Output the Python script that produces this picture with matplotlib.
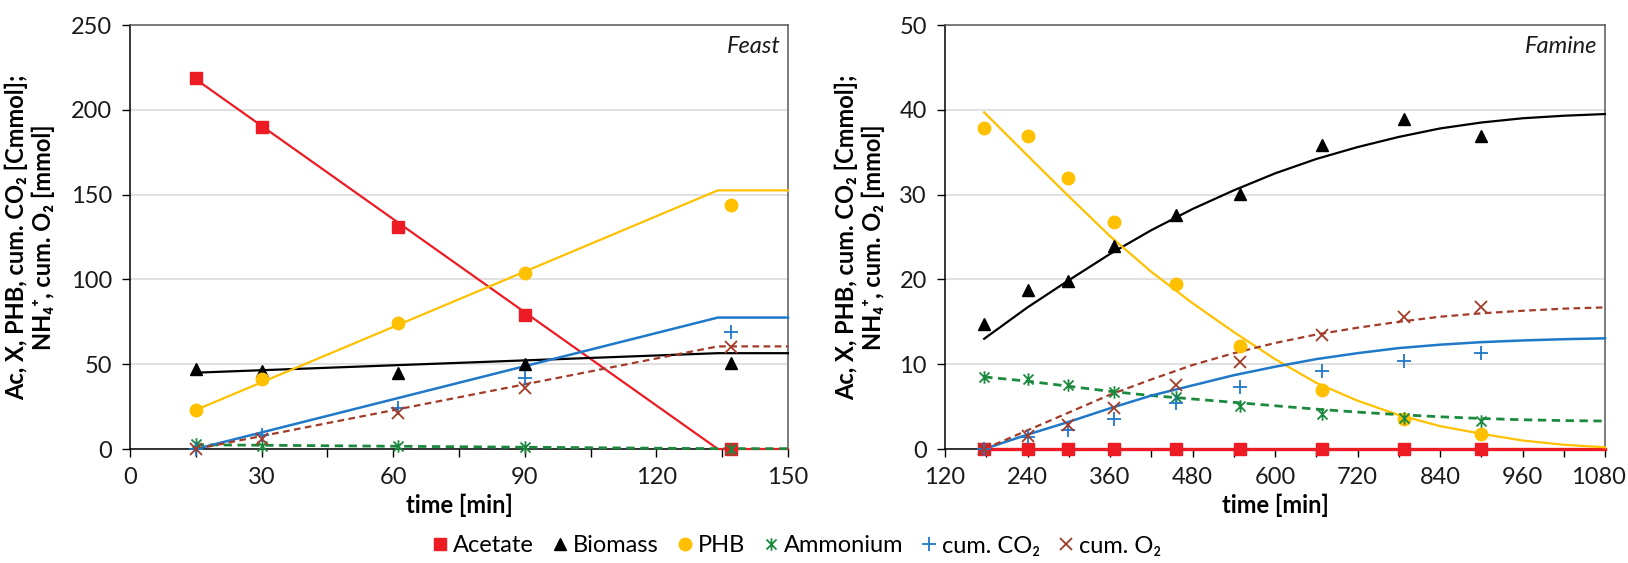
import numpy as np
import matplotlib
matplotlib.use("Agg")
import matplotlib.pyplot as plt
from matplotlib.path import Path
from matplotlib.lines import Line2D
from matplotlib.transforms import ScaledTranslation

plt.rcParams['font.family'] = ['Lato', 'DejaVu Sans']

# ---------------- data: Feast ----------------
feast_t = [15, 30, 61, 90, 137]
feast_acetate = [219, 190, 131, 79, 0]
feast_biomass = [47, 46, 45, 50, 51]
feast_phb = [23, 41, 74, 104, 144]
feast_ammonium = [3, 2, 2, 1, 0]
feast_co2 = [0, 8, 24, 42, 69]
feast_o2 = [0, 6, 21, 36, 60]

feast_model_t = [15, 134, 150]
feast_model_acetate = [218, 0, 0]
feast_model_biomass = [45, 56.5, 56.5]
feast_model_phb = [23, 152.5, 152.5]
feast_model_ammonium = [2.5, 0.2, 0.2]
feast_model_co2 = [0, 77.5, 77.5]
feast_model_o2 = [0, 60.5, 60.5]

# ---------------- data: Famine ----------------
famine_t = [177, 240, 299, 366, 456, 549, 669, 787, 900]
famine_acetate = [0, 0, 0, 0, 0, 0, 0, 0, 0]
famine_biomass = [14.7, 18.7, 19.8, 23.9, 27.6, 30.1, 35.8, 38.9, 36.9]
famine_phb = [37.9, 36.9, 31.9, 26.8, 19.5, 12.1, 6.9, 3.5, 1.8]
famine_ammonium = [8.45, 8.25, 7.6, 6.7, 6.1, 5.1, 4.1, 3.6, 3.3]
famine_co2 = [0, 1.4, 2.2, 3.5, 5.4, 7.3, 9.2, 10.4, 11.3]
famine_o2 = [0, 1.5, 2.8, 4.8, 7.5, 10.3, 13.5, 15.6, 16.7]

famine_model_t = [177, 240, 300, 360, 420, 480, 540, 600, 660, 720, 780, 840, 900, 960, 1020, 1080]
famine_model_acetate = [0] * 16
famine_model_biomass = [13.0, 16.7, 19.9, 23.0, 25.8, 28.3, 30.5, 32.5, 34.2, 35.6, 36.8, 37.8, 38.5, 39.0, 39.3, 39.5]
famine_model_phb = [39.7, 34.6, 29.8, 25.1, 20.9, 17.2, 13.8, 10.6, 7.8, 5.7, 4.0, 2.7, 1.8, 1.0, 0.5, 0.2]
famine_model_ammonium = [8.5, 8.0, 7.4, 6.8, 6.3, 5.9, 5.5, 5.1, 4.7, 4.35, 4.05, 3.8, 3.6, 3.45, 3.35, 3.3]
famine_model_co2 = [0.0, 1.7, 3.2, 4.8, 6.3, 7.5, 8.7, 9.7, 10.6, 11.3, 11.9, 12.3, 12.6, 12.8, 12.95, 13.05]
famine_model_o2 = [0.0, 2.2, 4.3, 6.4, 8.2, 9.9, 11.3, 12.5, 13.5, 14.3, 15.0, 15.6, 16.0, 16.3, 16.55, 16.7]

# ---------------- axes / labels ----------------
feast_xticks = [0, 15, 30, 45, 60, 75, 90, 105, 120, 135, 150]
feast_xticklabels = ['0', '', '30', '', '60', '', '90', '', '120', '', '150']
feast_yticks = [0, 50, 100, 150, 200, 250]
famine_xticks = [120, 180, 240, 300, 360, 420, 480, 540, 600, 660, 720, 780, 840, 900, 960, 1020, 1080]
famine_xticklabels = ['120', '', '240', '', '360', '', '480', '', '600', '', '720', '', '840', '', '960', '', '1080']
famine_yticks = [0, 10, 20, 30, 40, 50]

series_names = ['Acetate', 'Biomass', 'PHB', 'Ammonium', 'cum. CO₂', 'cum. O₂']
ylabel_text = 'Ac, X, PHB, cum. CO₂ [Cmmol];\nNH₄⁺, cum. O₂ [mmol]'
xlabel_text = 'time [min]'

# ---------------- style ----------------
C_AC = '#ED1C24'
C_X = '#000000'
C_PHB = '#FFC000'
C_NH = '#1B8A3E'
C_CO2 = '#1F78C8'
C_O2 = '#A33B29'
FS = 17

star = Path([(-1, -1), (1, 1), (-1, 1), (1, -1), (0, -1.25), (0, 1.25)],
            [Path.MOVETO, Path.LINETO, Path.MOVETO, Path.LINETO, Path.MOVETO, Path.LINETO])

marker_styles = [
    dict(marker='s', color=C_AC, ms=8.5, mec=C_AC),
    dict(marker='^', color=C_X, ms=8.5, mec=C_X),
    dict(marker='o', color=C_PHB, ms=9, mec=C_PHB),
    dict(marker=star, color=C_NH, ms=9, mew=1.3, mfc='none'),
    dict(marker='+', color=C_CO2, ms=10, mew=1.3),
    dict(marker='x', color=C_O2, ms=9, mew=1.3),
]
line_styles = [
    dict(color=C_AC, lw=1.6, ls='-'),
    dict(color=C_X, lw=1.6, ls='-'),
    dict(color=C_PHB, lw=1.6, ls='-'),
    dict(color=C_NH, lw=2.0, ls=(0, (3, 2))),
    dict(color=C_CO2, lw=1.8, ls='-'),
    dict(color=C_O2, lw=1.6, ls=(0, (3, 2))),
]

fig = plt.figure(figsize=(16.28, 5.63), dpi=100)
ax1 = fig.add_axes([130 / 1628, 1 - 449 / 563, 658 / 1628, 424 / 563])
ax2 = fig.add_axes([945 / 1628, 1 - 449 / 563, 660 / 1628, 424 / 563])


def draw(ax, t, data, mt, mdata, xlim, ylim, xticks, xtl, yticks, title, acetate_lw):
    for i, (y, st) in enumerate(zip(mdata, line_styles)):
        st = dict(st)
        if i == 0:
            st['lw'] = acetate_lw
        ax.plot(mt, y, zorder=3, clip_on=False, **st)
    for y, st in zip(data, marker_styles):
        ax.plot(t, y, ls='none', zorder=4, clip_on=False, **st)
    ax.set_xlim(*xlim)
    ax.set_ylim(*ylim)
    ax.set_xticks(xticks)
    ax.set_xticklabels(xtl)
    ax.set_yticks(yticks)
    ax.yaxis.grid(True, color='#D9D9D9', lw=1.1, zorder=0)
    ax.set_axisbelow(True)
    ax.tick_params(axis='both', direction='out', length=6, width=1, color='#000000',
                   labelsize=FS, labelcolor='#1a1a1a', pad=7)
    for s in ['left', 'bottom']:
        ax.spines[s].set_color('#000000')
        ax.spines[s].set_linewidth(1.1)
    for s in ['top', 'right']:
        ax.spines[s].set_color('#595959')
        ax.spines[s].set_linewidth(1.1)
    ax.set_xlabel(xlabel_text, fontsize=FS, fontweight='bold', labelpad=4)
    ax.text(0.988, 0.975, title, transform=ax.transAxes, ha='right', va='top',
            fontsize=FS, style='italic', color='#1a1a1a')


draw(ax1, feast_t,
     [feast_acetate, feast_biomass, feast_phb, feast_ammonium, feast_co2, feast_o2],
     feast_model_t,
     [feast_model_acetate, feast_model_biomass, feast_model_phb, feast_model_ammonium,
      feast_model_co2, feast_model_o2],
     (0, 150), (0, 250), feast_xticks, feast_xticklabels, feast_yticks, 'Feast', 1.6)
draw(ax2, famine_t,
     [famine_acetate, famine_biomass, famine_phb, famine_ammonium, famine_co2, famine_o2],
     famine_model_t,
     [famine_model_acetate, famine_model_biomass, famine_model_phb, famine_model_ammonium,
      famine_model_co2, famine_model_o2],
     (120, 1080), (0, 50), famine_xticks, famine_xticklabels, famine_yticks, 'Famine', 2.4)

# keep the last tick label of the right panel inside the figure
last = ax2.get_xticklabels()[-1]
last.set_transform(last.get_transform() + ScaledTranslation(-5 / 72, 0, fig.dpi_scale_trans))

for xc in (30, 860):
    fig.text(xc / 1628, 1 - 237 / 563, ylabel_text, rotation=90, ha='center', va='center',
             multialignment='center', fontsize=FS, fontweight='bold', linespacing=1.15)

handles = [Line2D([], [], ls='none', **st) for st in marker_styles]
fig.legend(handles, series_names, loc='center', bbox_to_anchor=(798 / 1628, 1 - 546 / 563),
           ncol=6, frameon=False, fontsize=FS, handlelength=0.5, handletextpad=0.3,
           columnspacing=0.85, borderpad=0)

fig.savefig('out.png', dpi=100)
